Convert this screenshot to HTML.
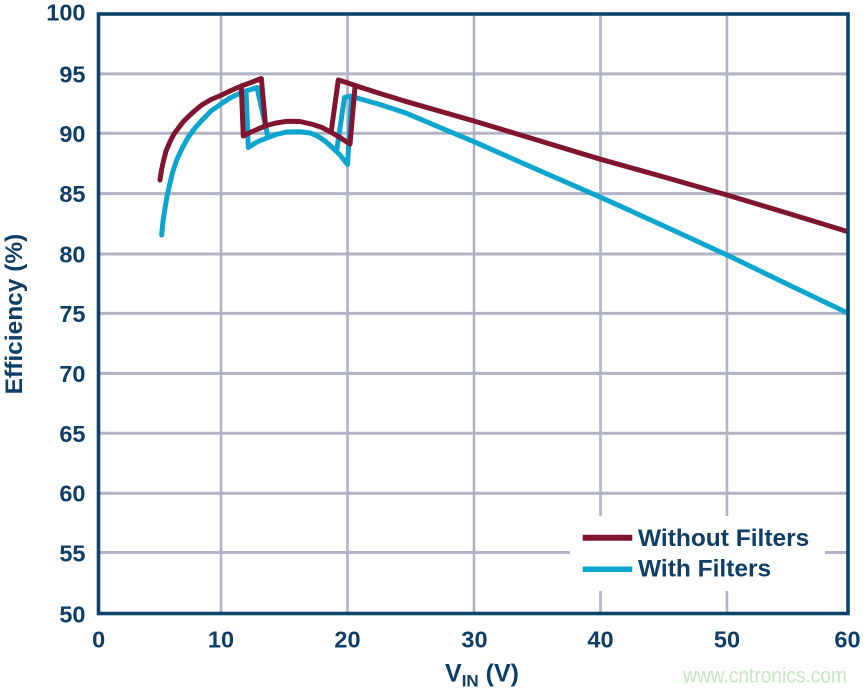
<!DOCTYPE html>
<html>
<head>
<meta charset="utf-8">
<style>
  html,body{margin:0;padding:0;background:#fff;}
  svg{display:block;}
  text{font-family:"Liberation Sans",Arial,sans-serif;}
</style>
</head>
<body>
<svg width="867" height="692" viewBox="0 0 867 692" xmlns="http://www.w3.org/2000/svg">
  <rect x="0" y="0" width="867" height="692" fill="#ffffff"/>

  <!-- gridlines -->
  <g stroke="#b1b3c7" stroke-width="2.6" fill="none">
    <line x1="221" y1="14" x2="221" y2="613"/>
    <line x1="347.5" y1="14" x2="347.5" y2="613"/>
    <line x1="474" y1="14" x2="474" y2="613"/>
    <line x1="600.5" y1="14" x2="600.5" y2="613"/>
    <line x1="727" y1="14" x2="727" y2="613"/>
  </g>
  <g stroke="#b1b3c7" stroke-width="3" fill="none">
    <line x1="98" y1="73.9" x2="848" y2="73.9"/>
    <line x1="98" y1="133.3" x2="848" y2="133.3"/>
    <line x1="98" y1="193.6" x2="848" y2="193.6"/>
    <line x1="98" y1="254" x2="848" y2="254"/>
    <line x1="98" y1="313.4" x2="848" y2="313.4"/>
    <line x1="98" y1="373.4" x2="848" y2="373.4"/>
    <line x1="98" y1="433.3" x2="848" y2="433.3"/>
    <line x1="98" y1="493.2" x2="848" y2="493.2"/>
    <line x1="98" y1="552.5" x2="848" y2="552.5"/>
  </g>

  <!-- legend background -->
  <rect x="570" y="516" width="255" height="75" fill="#ffffff"/>

  <!-- With Filters (blue) -->
  <g stroke="#0aa6cf" stroke-width="5" fill="none" stroke-linejoin="round" stroke-linecap="round">
    <polyline points="161.7,235 163,221 165,208.3 167.3,195 170,183 173,171 176.7,160 182,148.5 188.3,137 195,128 201.7,120.5 211,111 221.7,103.5 230,98 238.3,94 246,91 257,87.5 268,137"/>
    <polyline points="246,91 248.3,147.5 257,142 266.7,138 276,134.5 286.7,132 300,131.7 310,133 316.7,135.5 325,141 333.3,148.5 340,155 347.5,164.5 351.7,97"/>
    <polyline stroke-linecap="butt" points="336.5,152 344.5,97.5 350,96 357,98 380,104.5 406.7,113.3 440,127.5 474,141.7 537,169.5 600.7,197.3 664,226 727,255 787,284 849,313.6"/>
  </g>

  <!-- Without Filters (red) -->
  <g stroke="#801530" stroke-width="5" fill="none" stroke-linejoin="round" stroke-linecap="round">
    <polyline points="160,180 161.5,170 163.3,161.7 166,151 170,141.7 174,134 178.3,128.3 183,122 188.3,116.7 195,110.5 201.7,105 211,99.5 221.7,95 231,90.5 241.3,86 251,82.5 261.3,78.5 265.5,125"/>
    <polyline points="241.3,86 243.3,136 250,132.5 258,129 266.7,125.5 276,123 286.7,121.3 300,121.5 313,124.5 322,127.5 330,131.7 340,137.5 350,144 355,87"/>
    <polyline stroke-linecap="butt" points="331,133 338.3,80 345,82 356.7,86 380,93.5 406.7,101.7 474,121 537,140 600.7,159.3 664,177 727,195 787,213 849,232"/>
  </g>

  <!-- frame -->
  <rect x="98.5" y="14" width="749.5" height="599.5" fill="none" stroke="#0e4469" stroke-width="3.6"/>

  <!-- y tick labels -->
  <g fill="#0f3e66" font-size="23.5" font-weight="bold" text-anchor="end">
    <text x="85.5" y="20.7">100</text>
    <text x="85.5" y="82.5">95</text>
    <text x="85.5" y="141.8">90</text>
    <text x="85.5" y="202">85</text>
    <text x="85.5" y="262.5">80</text>
    <text x="85.5" y="322">75</text>
    <text x="85.5" y="382">70</text>
    <text x="85.5" y="441.8">65</text>
    <text x="85.5" y="501.7">60</text>
    <text x="85.5" y="561.3">55</text>
    <text x="85.5" y="622.5">50</text>
  </g>

  <!-- x tick labels -->
  <g fill="#0f3e66" font-size="23.5" font-weight="bold" text-anchor="middle">
    <text x="98.7" y="647.3">0</text>
    <text x="221" y="647.3">10</text>
    <text x="347.5" y="647.3">20</text>
    <text x="474.5" y="647.3">30</text>
    <text x="600.5" y="647.3">40</text>
    <text x="727" y="647.3">50</text>
    <text x="847.5" y="647.3">60</text>
  </g>

  <!-- axis titles -->
  <text x="445" y="681.7" fill="#0f3e66" font-size="25" font-weight="bold">V<tspan font-size="17" dy="5">IN</tspan><tspan dy="-5"> (V)</tspan></text>
  <text transform="translate(22,314) rotate(-90)" text-anchor="middle" fill="#0f3e66" font-size="24.5" font-weight="bold">Efficiency (%)</text>

  <!-- legend -->
  <line x1="582.7" y1="537.7" x2="632.3" y2="537.7" stroke="#801530" stroke-width="6"/>
  <line x1="582.7" y1="569.3" x2="632.3" y2="569.3" stroke="#0aa6cf" stroke-width="5.5"/>
  <text x="638" y="546" fill="#0f3e66" font-size="24.5" font-weight="bold">Without Filters</text>
  <text x="638" y="576.7" fill="#0f3e66" font-size="24.5" font-weight="bold">With Filters</text>

  <!-- watermark -->
  <text x="683" y="682.7" fill="#c6e6c0" font-size="21" textLength="164" lengthAdjust="spacingAndGlyphs">www.cntronics.com</text>
</svg>
</body>
</html>
